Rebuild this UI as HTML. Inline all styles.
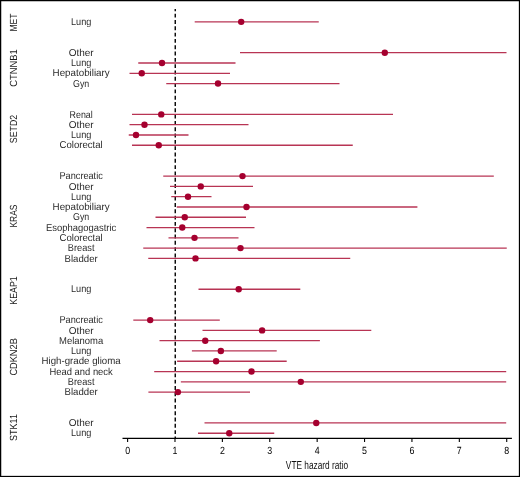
<!DOCTYPE html><html><head><meta charset="utf-8"><style>html,body{margin:0;padding:0;background:#fff;}svg{display:block;will-change:transform;}text{font-family:"Liberation Sans",sans-serif;text-rendering:geometricPrecision;}</style></head><body>
<svg width="520" height="477" viewBox="0 0 520 477">
<rect x="0" y="0" width="520" height="477" fill="#fff"/>
<rect x="0.6" y="0.6" width="518.9" height="475.9" fill="none" stroke="#000" stroke-width="1.3"/>
<text transform="translate(17.2,22.5) rotate(-90)" x="0" y="0" text-anchor="middle" font-size="10.3" fill="#1a1a1a" textLength="17.96" lengthAdjust="spacingAndGlyphs">MET</text>
<text transform="translate(17.2,68.1) rotate(-90)" x="0" y="0" text-anchor="middle" font-size="10.3" fill="#1a1a1a" textLength="37.38" lengthAdjust="spacingAndGlyphs">CTNNB1</text>
<text transform="translate(17.2,129.05) rotate(-90)" x="0" y="0" text-anchor="middle" font-size="10.3" fill="#1a1a1a" textLength="28.38" lengthAdjust="spacingAndGlyphs">SETD2</text>
<text transform="translate(17.2,216.1) rotate(-90)" x="0" y="0" text-anchor="middle" font-size="10.3" fill="#1a1a1a" textLength="23.04" lengthAdjust="spacingAndGlyphs">KRAS</text>
<text transform="translate(17.2,290.5) rotate(-90)" x="0" y="0" text-anchor="middle" font-size="10.3" fill="#1a1a1a" textLength="28.26" lengthAdjust="spacingAndGlyphs">KEAP1</text>
<text transform="translate(17.2,356.9) rotate(-90)" x="0" y="0" text-anchor="middle" font-size="10.3" fill="#1a1a1a" textLength="37.46" lengthAdjust="spacingAndGlyphs">CDKN2B</text>
<text transform="translate(17.2,427.5) rotate(-90)" x="0" y="0" text-anchor="middle" font-size="10.3" fill="#1a1a1a" textLength="26.80" lengthAdjust="spacingAndGlyphs">STK11</text>
<text x="81.15" y="25.00" text-anchor="middle" font-size="10.0" fill="#2b2b2b" textLength="20.32" lengthAdjust="spacingAndGlyphs">Lung</text>
<text x="81.15" y="55.85" text-anchor="middle" font-size="10.0" fill="#2b2b2b" textLength="25.04" lengthAdjust="spacingAndGlyphs">Other</text>
<text x="81.15" y="66.14" text-anchor="middle" font-size="10.0" fill="#2b2b2b" textLength="20.32" lengthAdjust="spacingAndGlyphs">Lung</text>
<text x="81.15" y="76.43" text-anchor="middle" font-size="10.0" fill="#2b2b2b" textLength="57.16" lengthAdjust="spacingAndGlyphs">Hepatobiliary</text>
<text x="81.15" y="86.71" text-anchor="middle" font-size="10.0" fill="#2b2b2b" textLength="16.24" lengthAdjust="spacingAndGlyphs">Gyn</text>
<text x="81.15" y="117.56" text-anchor="middle" font-size="10.0" fill="#2b2b2b" textLength="23.20" lengthAdjust="spacingAndGlyphs">Renal</text>
<text x="81.15" y="127.85" text-anchor="middle" font-size="10.0" fill="#2b2b2b" textLength="25.04" lengthAdjust="spacingAndGlyphs">Other</text>
<text x="81.15" y="138.14" text-anchor="middle" font-size="10.0" fill="#2b2b2b" textLength="20.32" lengthAdjust="spacingAndGlyphs">Lung</text>
<text x="81.15" y="148.42" text-anchor="middle" font-size="10.0" fill="#2b2b2b" textLength="43.20" lengthAdjust="spacingAndGlyphs">Colorectal</text>
<text x="81.15" y="179.28" text-anchor="middle" font-size="10.0" fill="#2b2b2b" textLength="43.28" lengthAdjust="spacingAndGlyphs">Pancreatic</text>
<text x="81.15" y="189.56" text-anchor="middle" font-size="10.0" fill="#2b2b2b" textLength="25.04" lengthAdjust="spacingAndGlyphs">Other</text>
<text x="81.15" y="199.84" text-anchor="middle" font-size="10.0" fill="#2b2b2b" textLength="20.32" lengthAdjust="spacingAndGlyphs">Lung</text>
<text x="81.15" y="210.13" text-anchor="middle" font-size="10.0" fill="#2b2b2b" textLength="57.16" lengthAdjust="spacingAndGlyphs">Hepatobiliary</text>
<text x="81.15" y="220.41" text-anchor="middle" font-size="10.0" fill="#2b2b2b" textLength="16.24" lengthAdjust="spacingAndGlyphs">Gyn</text>
<text x="81.15" y="230.70" text-anchor="middle" font-size="10.0" fill="#2b2b2b" textLength="70.20" lengthAdjust="spacingAndGlyphs">Esophagogastric</text>
<text x="81.15" y="240.99" text-anchor="middle" font-size="10.0" fill="#2b2b2b" textLength="43.20" lengthAdjust="spacingAndGlyphs">Colorectal</text>
<text x="81.15" y="251.27" text-anchor="middle" font-size="10.0" fill="#2b2b2b" textLength="26.62" lengthAdjust="spacingAndGlyphs">Breast</text>
<text x="81.15" y="261.56" text-anchor="middle" font-size="10.0" fill="#2b2b2b" textLength="33.20" lengthAdjust="spacingAndGlyphs">Bladder</text>
<text x="81.15" y="292.41" text-anchor="middle" font-size="10.0" fill="#2b2b2b" textLength="20.32" lengthAdjust="spacingAndGlyphs">Lung</text>
<text x="81.15" y="323.26" text-anchor="middle" font-size="10.0" fill="#2b2b2b" textLength="43.28" lengthAdjust="spacingAndGlyphs">Pancreatic</text>
<text x="81.15" y="333.55" text-anchor="middle" font-size="10.0" fill="#2b2b2b" textLength="25.04" lengthAdjust="spacingAndGlyphs">Other</text>
<text x="81.15" y="343.83" text-anchor="middle" font-size="10.0" fill="#2b2b2b" textLength="44.16" lengthAdjust="spacingAndGlyphs">Melanoma</text>
<text x="81.15" y="354.12" text-anchor="middle" font-size="10.0" fill="#2b2b2b" textLength="20.32" lengthAdjust="spacingAndGlyphs">Lung</text>
<text x="81.15" y="364.41" text-anchor="middle" font-size="10.0" fill="#2b2b2b" textLength="79.12" lengthAdjust="spacingAndGlyphs">High-grade glioma</text>
<text x="81.15" y="374.69" text-anchor="middle" font-size="10.0" fill="#2b2b2b" textLength="63.24" lengthAdjust="spacingAndGlyphs">Head and neck</text>
<text x="81.15" y="384.98" text-anchor="middle" font-size="10.0" fill="#2b2b2b" textLength="26.62" lengthAdjust="spacingAndGlyphs">Breast</text>
<text x="81.15" y="395.26" text-anchor="middle" font-size="10.0" fill="#2b2b2b" textLength="33.20" lengthAdjust="spacingAndGlyphs">Bladder</text>
<text x="81.15" y="426.12" text-anchor="middle" font-size="10.0" fill="#2b2b2b" textLength="25.04" lengthAdjust="spacingAndGlyphs">Other</text>
<text x="81.15" y="436.40" text-anchor="middle" font-size="10.0" fill="#2b2b2b" textLength="20.32" lengthAdjust="spacingAndGlyphs">Lung</text>
<line x1="175.25" y1="9" x2="175.25" y2="438" stroke="#000" stroke-width="1.4" stroke-dasharray="3.9 2.41" stroke-dashoffset="1.6"/>
<line x1="194.7" y1="21.85" x2="318.75" y2="21.85" stroke="#b83454" stroke-width="1.3"/>
<line x1="240" y1="52.70" x2="506.5" y2="52.70" stroke="#b83454" stroke-width="1.3"/>
<line x1="138.25" y1="62.99" x2="235.5" y2="62.99" stroke="#b83454" stroke-width="1.3"/>
<line x1="129.5" y1="73.28" x2="230" y2="73.28" stroke="#b83454" stroke-width="1.3"/>
<line x1="166.25" y1="83.56" x2="339.5" y2="83.56" stroke="#b83454" stroke-width="1.3"/>
<line x1="132" y1="114.41" x2="393" y2="114.41" stroke="#b83454" stroke-width="1.3"/>
<line x1="129.5" y1="124.70" x2="248.5" y2="124.70" stroke="#b83454" stroke-width="1.3"/>
<line x1="128.75" y1="134.99" x2="188.5" y2="134.99" stroke="#b83454" stroke-width="1.3"/>
<line x1="132" y1="145.27" x2="352.75" y2="145.27" stroke="#b83454" stroke-width="1.3"/>
<line x1="163.25" y1="176.12" x2="493.8" y2="176.12" stroke="#b83454" stroke-width="1.3"/>
<line x1="170" y1="186.41" x2="253" y2="186.41" stroke="#b83454" stroke-width="1.3"/>
<line x1="171.25" y1="196.69" x2="211.5" y2="196.69" stroke="#b83454" stroke-width="1.3"/>
<line x1="176.75" y1="206.98" x2="417.4" y2="206.98" stroke="#b83454" stroke-width="1.3"/>
<line x1="155.5" y1="217.26" x2="246" y2="217.26" stroke="#b83454" stroke-width="1.3"/>
<line x1="146.5" y1="227.55" x2="254.5" y2="227.55" stroke="#b83454" stroke-width="1.3"/>
<line x1="168.5" y1="237.84" x2="238.5" y2="237.84" stroke="#b83454" stroke-width="1.3"/>
<line x1="143.25" y1="248.12" x2="506.75" y2="248.12" stroke="#b83454" stroke-width="1.3"/>
<line x1="148.25" y1="258.41" x2="350.25" y2="258.41" stroke="#b83454" stroke-width="1.3"/>
<line x1="198.5" y1="289.26" x2="300.3" y2="289.26" stroke="#b83454" stroke-width="1.3"/>
<line x1="133.3" y1="320.12" x2="219.8" y2="320.12" stroke="#b83454" stroke-width="1.3"/>
<line x1="202.5" y1="330.40" x2="371.3" y2="330.40" stroke="#b83454" stroke-width="1.3"/>
<line x1="159.5" y1="340.69" x2="319.9" y2="340.69" stroke="#b83454" stroke-width="1.3"/>
<line x1="191.9" y1="350.97" x2="276.7" y2="350.97" stroke="#b83454" stroke-width="1.3"/>
<line x1="177.1" y1="361.26" x2="286.7" y2="361.26" stroke="#b83454" stroke-width="1.3"/>
<line x1="154.2" y1="371.54" x2="506.2" y2="371.54" stroke="#b83454" stroke-width="1.3"/>
<line x1="180.85" y1="381.83" x2="506.2" y2="381.83" stroke="#b83454" stroke-width="1.3"/>
<line x1="148.4" y1="392.11" x2="250" y2="392.11" stroke="#b83454" stroke-width="1.3"/>
<line x1="204.5" y1="422.97" x2="506.2" y2="422.97" stroke="#b83454" stroke-width="1.3"/>
<line x1="198" y1="433.25" x2="274.25" y2="433.25" stroke="#b83454" stroke-width="1.3"/>
<circle cx="241.2" cy="21.85" r="3.2" fill="#a5002f"/>
<circle cx="384.8" cy="52.70" r="3.2" fill="#a5002f"/>
<circle cx="162" cy="62.99" r="3.2" fill="#a5002f"/>
<circle cx="141.75" cy="73.28" r="3.2" fill="#a5002f"/>
<circle cx="218" cy="83.56" r="3.2" fill="#a5002f"/>
<circle cx="161.25" cy="114.41" r="3.2" fill="#a5002f"/>
<circle cx="144.5" cy="124.70" r="3.2" fill="#a5002f"/>
<circle cx="136" cy="134.99" r="3.2" fill="#a5002f"/>
<circle cx="158.75" cy="145.27" r="3.2" fill="#a5002f"/>
<circle cx="242.5" cy="176.12" r="3.2" fill="#a5002f"/>
<circle cx="200.75" cy="186.41" r="3.2" fill="#a5002f"/>
<circle cx="188" cy="196.69" r="3.2" fill="#a5002f"/>
<circle cx="246.5" cy="206.98" r="3.2" fill="#a5002f"/>
<circle cx="184.75" cy="217.26" r="3.2" fill="#a5002f"/>
<circle cx="182.25" cy="227.55" r="3.2" fill="#a5002f"/>
<circle cx="194.5" cy="237.84" r="3.2" fill="#a5002f"/>
<circle cx="240.5" cy="248.12" r="3.2" fill="#a5002f"/>
<circle cx="195.5" cy="258.41" r="3.2" fill="#a5002f"/>
<circle cx="238.7" cy="289.26" r="3.2" fill="#a5002f"/>
<circle cx="150.2" cy="320.12" r="3.2" fill="#a5002f"/>
<circle cx="262.1" cy="330.40" r="3.2" fill="#a5002f"/>
<circle cx="205.25" cy="340.69" r="3.2" fill="#a5002f"/>
<circle cx="220.85" cy="350.97" r="3.2" fill="#a5002f"/>
<circle cx="216.1" cy="361.26" r="3.2" fill="#a5002f"/>
<circle cx="251.5" cy="371.54" r="3.2" fill="#a5002f"/>
<circle cx="300.8" cy="381.83" r="3.2" fill="#a5002f"/>
<circle cx="177.9" cy="392.11" r="3.2" fill="#a5002f"/>
<circle cx="316.25" cy="422.97" r="3.2" fill="#a5002f"/>
<circle cx="229.25" cy="433.25" r="3.2" fill="#a5002f"/>
<line x1="122.5" y1="438.3" x2="511.9" y2="438.3" stroke="#000" stroke-width="1.35"/>
<line x1="127.60" y1="438.3" x2="127.60" y2="441.9" stroke="#000" stroke-width="1.1"/>
<text x="127.60" y="453.7" text-anchor="middle" font-size="10.4" fill="#000" transform="translate(127.60,0) scale(0.85,1) translate(-127.60,0)">0</text>
<line x1="174.99" y1="438.3" x2="174.99" y2="441.9" stroke="#000" stroke-width="1.1"/>
<text x="174.99" y="453.7" text-anchor="middle" font-size="10.4" fill="#000" transform="translate(174.99,0) scale(0.85,1) translate(-174.99,0)">1</text>
<line x1="222.38" y1="438.3" x2="222.38" y2="441.9" stroke="#000" stroke-width="1.1"/>
<text x="222.38" y="453.7" text-anchor="middle" font-size="10.4" fill="#000" transform="translate(222.38,0) scale(0.85,1) translate(-222.38,0)">2</text>
<line x1="269.77" y1="438.3" x2="269.77" y2="441.9" stroke="#000" stroke-width="1.1"/>
<text x="269.77" y="453.7" text-anchor="middle" font-size="10.4" fill="#000" transform="translate(269.77,0) scale(0.85,1) translate(-269.77,0)">3</text>
<line x1="317.16" y1="438.3" x2="317.16" y2="441.9" stroke="#000" stroke-width="1.1"/>
<text x="317.16" y="453.7" text-anchor="middle" font-size="10.4" fill="#000" transform="translate(317.16,0) scale(0.85,1) translate(-317.16,0)">4</text>
<line x1="364.55" y1="438.3" x2="364.55" y2="441.9" stroke="#000" stroke-width="1.1"/>
<text x="364.55" y="453.7" text-anchor="middle" font-size="10.4" fill="#000" transform="translate(364.55,0) scale(0.85,1) translate(-364.55,0)">5</text>
<line x1="411.94" y1="438.3" x2="411.94" y2="441.9" stroke="#000" stroke-width="1.1"/>
<text x="411.94" y="453.7" text-anchor="middle" font-size="10.4" fill="#000" transform="translate(411.94,0) scale(0.85,1) translate(-411.94,0)">6</text>
<line x1="459.33" y1="438.3" x2="459.33" y2="441.9" stroke="#000" stroke-width="1.1"/>
<text x="459.33" y="453.7" text-anchor="middle" font-size="10.4" fill="#000" transform="translate(459.33,0) scale(0.85,1) translate(-459.33,0)">7</text>
<line x1="506.72" y1="438.3" x2="506.72" y2="441.9" stroke="#000" stroke-width="1.1"/>
<text x="506.72" y="453.7" text-anchor="middle" font-size="10.4" fill="#000" transform="translate(506.72,0) scale(0.85,1) translate(-506.72,0)">8</text>
<text x="317" y="468.7" text-anchor="middle" font-size="11.5" fill="#111" textLength="62.3" lengthAdjust="spacingAndGlyphs">VTE hazard ratio</text>
</svg></body></html>
